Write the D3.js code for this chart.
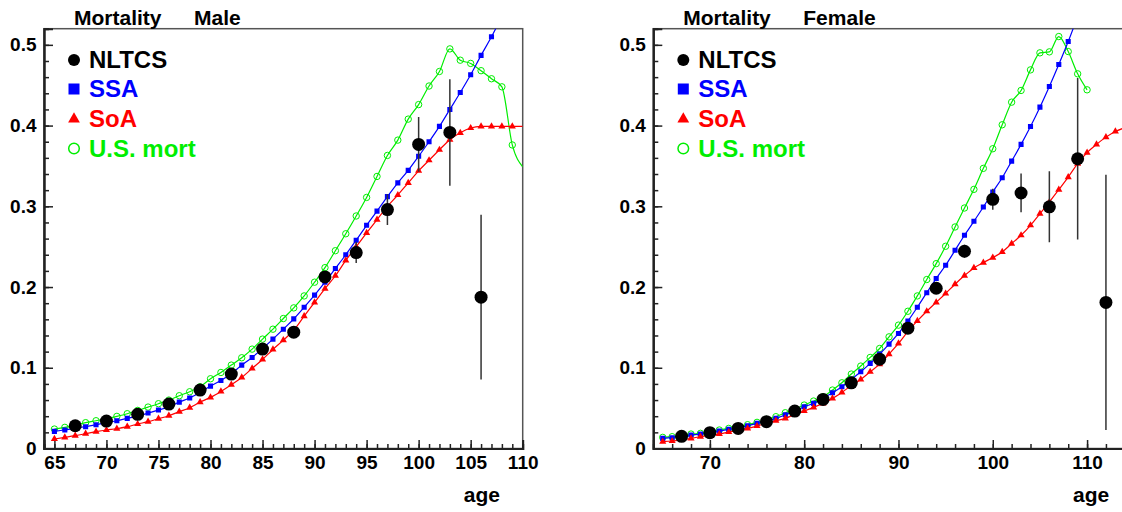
<!DOCTYPE html>
<html>
<head>
<meta charset="utf-8">
<script src="https://cdn.jsdelivr.net/npm/d3@7"></script>
<style>
  body { margin: 0; background: #fff; }
  text { font-family: "Liberation Sans", Arial, Helvetica, sans-serif; font-weight: bold; }
</style>
</head>
<body>
<svg id="chart" width="1122" height="512"></svg>
<script>
// Curves start at age 65, one value per year
const curveStart = 65;

// Male
const maleSSA = [0.0212, 0.0229, 0.0252, 0.027, 0.0295, 0.032, 0.0344, 0.0373, 0.0402, 0.0439,
  0.0476, 0.0517, 0.0575, 0.0625, 0.0695, 0.0773, 0.0843, 0.0926, 0.1033, 0.1128,
  0.1239, 0.1355, 0.1478, 0.1606, 0.175, 0.19, 0.206, 0.223, 0.240, 0.258,
  0.2765, 0.294, 0.312, 0.329, 0.3445, 0.362, 0.380, 0.399, 0.420, 0.441,
  0.463, 0.487, 0.510, 0.535];
const maleSoA = [0.0118, 0.0138, 0.0159, 0.0183, 0.0208, 0.0229, 0.0245, 0.027, 0.0303, 0.0332,
  0.0369, 0.0406, 0.0456, 0.0505, 0.0575, 0.0633, 0.0707, 0.079, 0.088, 0.0992,
  0.1103, 0.1227, 0.1342, 0.1466, 0.164, 0.181, 0.198, 0.214, 0.233, 0.250,
  0.267, 0.2835, 0.300, 0.314, 0.329, 0.344, 0.357, 0.370, 0.3825, 0.391,
  0.397, 0.399, 0.399, 0.399, 0.399, 0.399];
const maleUS = [0.0241, 0.0262, 0.0287, 0.032, 0.0344, 0.0369, 0.0398, 0.0431, 0.0472, 0.0513,
  0.0555, 0.060, 0.0654, 0.0703, 0.0765, 0.0864, 0.0942, 0.1033, 0.1124, 0.1231,
  0.1355, 0.1478, 0.161, 0.1742, 0.189, 0.206, 0.224, 0.245, 0.266, 0.288,
  0.311, 0.337, 0.363, 0.382, 0.408, 0.426, 0.449, 0.467, 0.495, 0.481,
  0.477, 0.468, 0.458, 0.448, 0.376, 0.349];
const maleNltcsAge = [67, 70, 73, 76, 79, 82, 85, 88, 91, 94, 97, 100, 103, 106];
const maleNltcs = [0.0282, 0.034, 0.0423, 0.055, 0.0724, 0.0922, 0.1231, 0.1441, 0.2125, 0.2427,
  0.2959, 0.3767, 0.3915, 0.1874];
const maleNltcsErr = [0.001, 0.001, 0.0015, 0.002, 0.002, 0.003, 0.003, 0.004, 0.005, 0.013,
  0.019, 0.034, 0.066, 0.102];

// Female
const femaleSSA = [0.0126, 0.0134, 0.0151, 0.0167, 0.0179, 0.020, 0.0216, 0.0237, 0.0258, 0.0282,
  0.0311, 0.0344, 0.0373, 0.0418, 0.0464, 0.0517, 0.0559, 0.0621, 0.0691, 0.0765,
  0.0856, 0.095, 0.1054, 0.1169, 0.1293, 0.1425, 0.158, 0.175, 0.193, 0.2105,
  0.227, 0.2455, 0.2641, 0.2814, 0.2991, 0.3177, 0.3354, 0.356, 0.3767, 0.3989,
  0.4228, 0.4484, 0.4756, 0.5041, 0.535];
const femaleSoA = [0.0085, 0.0093, 0.0105, 0.0126, 0.0146, 0.0167, 0.0179, 0.0204, 0.0225, 0.0249,
  0.0278, 0.0311, 0.0344, 0.0373, 0.0423, 0.0464, 0.0509, 0.0559, 0.0621, 0.0695,
  0.0781, 0.0856, 0.095, 0.1045, 0.1169, 0.1301, 0.145, 0.158, 0.170, 0.181,
  0.192, 0.2035, 0.2142, 0.2237, 0.2303, 0.2365, 0.2435, 0.2538, 0.2641, 0.2765,
  0.2909, 0.3053, 0.3206, 0.3362, 0.3528, 0.3664, 0.3767, 0.3857, 0.3927, 0.3973];
const femaleUS = [0.0138, 0.0146, 0.0163, 0.0179, 0.0188, 0.0208, 0.0229, 0.0249, 0.027, 0.0295,
  0.0324, 0.0361, 0.0394, 0.0443, 0.0485, 0.0538, 0.0588, 0.0641, 0.0724, 0.0814,
  0.0922, 0.1021, 0.1128, 0.1239, 0.1383, 0.1528, 0.170, 0.189, 0.2093, 0.229,
  0.2505, 0.2744, 0.2979, 0.321, 0.347, 0.3713, 0.401, 0.429, 0.4435, 0.469,
  0.4901, 0.4913, 0.5103, 0.4917, 0.4641, 0.4443];
const femaleNltcsAge = [67, 70, 73, 76, 79, 82, 85, 88, 91, 94, 97, 100, 103, 106, 109, 112];
const femaleNltcs = [0.0151, 0.0196, 0.0249, 0.0332, 0.0464, 0.0608, 0.0814, 0.1107, 0.149, 0.1985,
  0.2443, 0.3086, 0.3165, 0.2994, 0.3589, 0.181];
const femaleNltcsErr = [0.001, 0.001, 0.001, 0.0015, 0.002, 0.002, 0.003, 0.004, 0.005, 0.006,
  0.008, 0.013, 0.024, 0.044, 0.10, 0.158];

const legendLabels = ["NLTCS", "SSA", "SoA", "U.S. mort"];
const blue = "#0000ff", red = "#ff0000", green = "#00ee00";

const svg = d3.select("#chart");

function drawPanel(p) {
  const x = d3.scaleLinear().domain(p.xDomain).range([p.left, p.right]);
  const y = d3.scaleLinear().domain([0, 0.52]).range([p.bottom, p.top]);
  const g = svg.append("g");

  svg.append("clipPath").attr("id", "clip-" + p.id)
    .append("rect")
      .attr("x", p.left).attr("y", p.top)
      .attr("width", p.right - p.left).attr("height", p.bottom - p.top);

  // frame
  g.append("rect")
    .attr("x", p.left).attr("y", p.top)
    .attr("width", p.right - p.left).attr("height", p.bottom - p.top)
    .attr("fill", "none").attr("stroke", "#555").attr("stroke-width", 1.5);

  // y axis (ticks inside the frame)
  const yMinor = g.append("g").attr("transform", `translate(${p.left},0)`)
    .call(d3.axisLeft(y).tickValues(d3.range(0, 0.521, 0.02)).tickSize(-5).tickFormat(""));
  const yMajor = g.append("g").attr("transform", `translate(${p.left},0)`)
    .call(d3.axisLeft(y).tickValues(d3.range(0, 0.51, 0.1)).tickSize(-9).tickPadding(7.5)
      .tickFormat(d => d < 1e-9 ? "0" : d3.format(".1f")(d)));

  // x axis (ticks pointing up)
  const xMinor = g.append("g").attr("transform", `translate(0,${p.bottom})`)
    .call(d3.axisBottom(x).tickValues(d3.range(p.xDomain[0], p.xDomain[1] + 0.01, p.minor)).tickSize(-4.5).tickFormat(""));
  const xMajor = g.append("g").attr("transform", `translate(0,${p.bottom})`)
    .call(d3.axisBottom(x).tickValues(p.majorTicks).tickSize(-8.5).tickPadding(7));

  [yMinor, yMajor, xMinor, xMajor].forEach(a => {
    a.select(".domain").attr("stroke", "#222").attr("stroke-width", 2);
    a.selectAll(".tick line").attr("stroke", "#222").attr("stroke-width", 1.5);
    a.selectAll(".tick text").attr("fill", "#000").style("font-size", "19px")
      .style("font-family", "'Liberation Sans', Arial, sans-serif").style("font-weight", "bold");
  });

  // curves
  const plot = g.append("g").attr("clip-path", `url(#clip-${p.id})`);
  const line = d3.line().x(d => x(d.age)).y(d => y(d.v)).curve(d3.curveMonotoneX);
  const series = [
    { vals: p.us, color: green, kind: "circle" },
    { vals: p.ssa, color: blue, kind: "square" },
    { vals: p.soa, color: red, kind: "triangle" }
  ];
  series.forEach(s => {
    const pts = s.vals.map((v, i) => ({ age: curveStart + i, v: v }));
    plot.append("path").datum(pts)
      .attr("d", line).attr("fill", "none")
      .attr("stroke", s.color).attr("stroke-width", 1.2);
    const mk = pts.filter(d => d.age < p.xDomain[1]);
    if (s.kind === "circle") {
      plot.selectAll(null).data(mk).enter().append("circle")
        .attr("cx", d => x(d.age)).attr("cy", d => y(d.v)).attr("r", 3.2)
        .attr("fill", "none").attr("stroke", s.color).attr("stroke-width", 1);
    } else {
      const sym = d3.symbol()
        .type(s.kind === "square" ? d3.symbolSquare : d3.symbolTriangle)
        .size(s.kind === "square" ? 26 : 22);
      plot.selectAll(null).data(mk).enter().append("path")
        .attr("d", sym)
        .attr("transform", d => `translate(${x(d.age)},${y(d.v)})`)
        .attr("fill", s.color);
    }
  });

  // NLTCS with error bars
  const nl = p.nlAge.map((a, i) => ({ age: a, v: p.nl[i], e: p.nlErr[i] }));
  plot.selectAll(null).data(nl).enter().append("line")
    .attr("x1", d => x(d.age)).attr("x2", d => x(d.age))
    .attr("y1", d => y(d.v - d.e)).attr("y2", d => y(d.v + d.e))
    .attr("stroke", "#333").attr("stroke-width", 1.5);
  plot.selectAll(null).data(nl).enter().append("circle")
    .attr("cx", d => x(d.age)).attr("cy", d => y(d.v)).attr("r", 6.5)
    .attr("fill", "#000");

  // legend
  const lx = p.left + 30, tx = p.left + 45;
  const rows = [60, 89, 119, 148.5];
  const lg = g.append("g");
  lg.append("circle").attr("cx", lx).attr("cy", rows[0]).attr("r", 6).attr("fill", "#000");
  lg.append("rect").attr("x", lx - 5.5).attr("y", rows[1] - 5.5).attr("width", 11).attr("height", 11).attr("fill", blue);
  lg.append("path").attr("d", d3.symbol().type(d3.symbolTriangle).size(60))
    .attr("transform", `translate(${lx},${rows[2]})`).attr("fill", red);
  lg.append("circle").attr("cx", lx).attr("cy", rows[3]).attr("r", 5.3)
    .attr("fill", "none").attr("stroke", green).attr("stroke-width", 1.5);
  const colors = ["#000", blue, red, green];
  legendLabels.forEach((t, i) => {
    lg.append("text").attr("x", tx).attr("y", rows[i] + 8.3)
      .attr("fill", colors[i]).style("font-size", "24px").text(t);
  });

  // title
  g.append("text").attr("x", p.left + 30).attr("y", 25).style("font-size", "21px").text("Mortality");
  g.append("text").attr("x", p.left + 150).attr("y", 25).style("font-size", "21px").text(p.title);

  // x label
  g.append("text").attr("x", p.left + 456).attr("y", 502)
    .attr("text-anchor", "end").style("font-size", "21px").text("age");
}

drawPanel({
  id: "male", title: "Male",
  left: 44, right: 522.7, top: 28.7, bottom: 448.5,
  xDomain: [64, 110], minor: 1, majorTicks: d3.range(65, 111, 5),
  ssa: maleSSA, soa: maleSoA, us: maleUS,
  nlAge: maleNltcsAge, nl: maleNltcs, nlErr: maleNltcsErr
});

drawPanel({
  id: "female", title: "Female",
  left: 653.3, right: 1124.8, top: 28.7, bottom: 448.5,
  xDomain: [64, 114], minor: 2, majorTicks: d3.range(70, 111, 10),
  ssa: femaleSSA, soa: femaleSoA, us: femaleUS,
  nlAge: femaleNltcsAge, nl: femaleNltcs, nlErr: femaleNltcsErr
});
</script>
</body>
</html>
